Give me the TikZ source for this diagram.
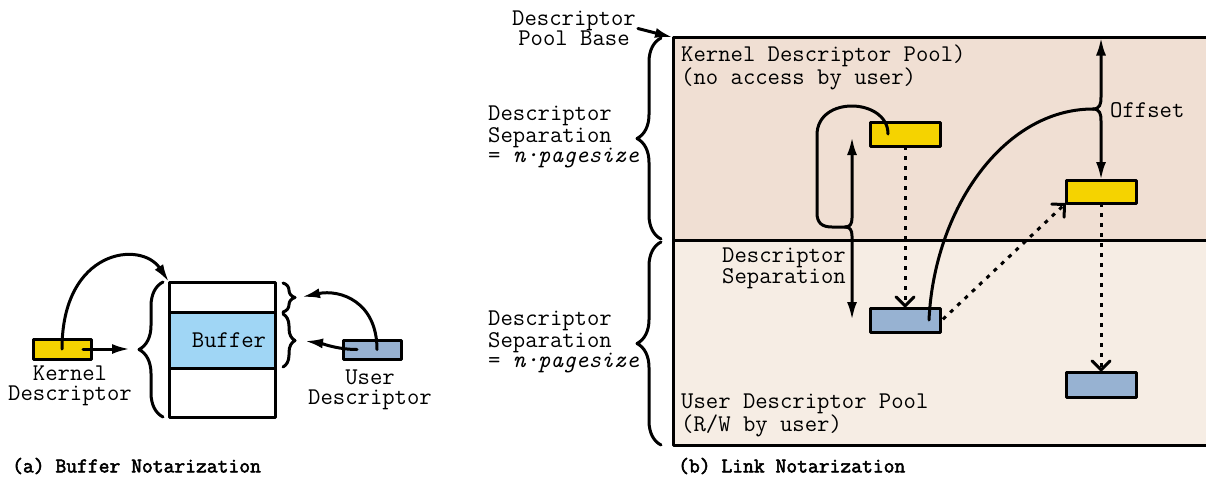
\documentclass[tikz,border=0pt]{standalone}
\usepackage{fontspec}
\newfontfamily\capfont{Latin Modern Mono}[FakeBold=2.5]
\usetikzlibrary{arrows.meta,decorations.pathreplacing}
\definecolor{kyellow}{RGB}{245,211,0}
\definecolor{ublue}{RGB}{151,178,210}
\definecolor{bufblue}{RGB}{160,214,245}
\definecolor{kpoolc}{RGB}{240,223,211}
\definecolor{upoolc}{RGB}{246,237,228}
\begin{document}
\begin{tikzpicture}[x=1pt,y=-1pt,line join=round,line cap=round,
	txt/.style={font=\ttfamily\fontsize{24}{20}\selectfont,inner sep=0pt,align=left},
	caption/.style={font=\capfont\fontsize{21}{20}\selectfont,inner sep=0pt,anchor=west},
	box/.style={draw,line width=3pt,inner sep=0pt,outer sep=0pt},
	kdesc/.style={box,fill=kyellow},
	udesc/.style={box,fill=ublue},
	curly/.style={decorate,decoration={brace,amplitude=#1},line width=3pt},
	link/.style={line width=3pt,-{Latex[length=18pt,width=10pt]}},
	dlink/.style={line width=3pt,dash pattern=on 4pt off 6pt,line cap=butt,-{Straight Barb[length=9pt,width=18pt,line cap=round]}}]
	\useasboundingbox (0,0) rectangle (1206,482);
	% (a) buffer
	\node[kdesc,minimum width=58pt,minimum height=20pt] (kd) at (62,349) {};
	\node[txt,align=center] (kdl) at (70,386) {Kernel\\Descriptor};
	\node[box,fill=white,minimum width=106pt,minimum height=30pt] (bt) at (222,297) {};
	\node[box,fill=bufblue,minimum width=106pt,minimum height=56pt,label={[txt,xshift=7pt]center:Buffer}] (buf) at (222,340) {};
	\node[box,fill=white,minimum width=106pt,minimum height=49pt] (bb) at (222,392.5) {};
	\node[udesc,minimum width=58pt,minimum height=19pt] (ud) at (372,349.5) {};
	\node[txt,align=center] (udl) at (370,390) {User\\Descriptor};
	\draw[curly=24] (163,417) -- (163,282);
	\draw[curly=12] (283,283) -- (283,312);
	\draw[curly=12] (283,314) -- (283,367);
	\coordinate (kin) at (130,349);
	\coordinate (st) at (302,297);
	\coordinate (bt2) at (305,341);
	\draw[link] ([xshift=21pt]kd.center) -- (kin);
	\draw[link] (kd.center) .. controls +(0,-100) and +(-28,-42) .. (bt.north west);
	\draw[link] ([xshift=5pt]ud.center) .. controls +(0,-48) and +(38,-8) .. (st);
	\draw[link] ([xshift=-15pt]ud.center) .. controls +(-20,0) and +(15,2) .. (bt2);
	\node[caption] (capa) at (12,466) {(a) Buffer Notarization};
	% (b) links
	\node[box,fill=kpoolc,minimum width=540pt,minimum height=202.5pt,anchor=north west] (kpool) at (673,37.5) {};
	\node[box,fill=upoolc,minimum width=540pt,minimum height=205pt,anchor=north west] (upool) at (kpool.south west) {};
	\node[txt,anchor=north west] (kpl) at (681,45) {Kernel Descriptor Pool)\\(no access by user)};
	\node[txt,anchor=south west] (upl) at (681,437) {User Descriptor Pool\\(R/W by user)};
	\draw[curly=24] (661,239) -- (661,38);
	\draw[curly=24] (661,445) -- (661,242);
	\node[txt,anchor=west] (sep1) at (488,137) {Descriptor\\Separation\\= {\itshape n·pagesize}};
	\node[txt,anchor=west] (sep2) at (488,342) {Descriptor\\Separation\\= {\itshape n·pagesize}};
	\node[txt,align=center] (pb) at (574,28) {Descriptor\\Pool Base};
	\draw[link,shorten <=2pt] (pb.east) -- (kpool.north west);
	\node[kdesc,minimum width=70pt,minimum height=24pt] (k1) at (905,134) {};
	\node[kdesc,minimum width=70pt,minimum height=23pt] (k2) at (1101,191.5) {};
	\node[udesc,minimum width=70pt,minimum height=24pt] (u1) at (905,320) {};
	\node[udesc,minimum width=70pt,minimum height=25pt] (u2) at (1101,384.5) {};
	\draw[dlink] (k1) -- (u1);
	\draw[dlink] (k2) -- (u2);
	\draw[dlink,shorten <=4pt] ([yshift=-2pt]u1.east) -- (k2.south west);
	\coordinate (oj) at (1093,109);
	\draw[line width=3pt] ([xshift=24pt]u1.center) .. controls +(5,-110) and +(-90,0) .. (oj);
	\draw[link] (oj) .. controls (1100,109) and (1101,104) .. (1101,97) -- (k2.north |- kpool.north);
	\draw[link] (oj) .. controls (1100,109) and (1101,114) .. (1101,121) -- (k2.north);
	\node[txt,anchor=west] (offl) at (1110,110) {Offset};
	\coordinate (sj) at (845,227);
	\coordinate (sepTop) at (852,137);
	\coordinate (sepBot) at (852,320);
	\draw[line width=3pt] ([xshift=-17pt]k1.center) .. controls +(0,-36) and (817,95) .. (817,135) -- (817,213) .. controls (817,223) and (822,227) .. (832,227) -- (sj);
	\draw[link] (sj) .. controls (850,227) and (852,224) .. (852,218) -- (sepTop);
	\draw[link] (sj) .. controls (850,227) and (852,230) .. (852,236) -- (sepBot);
	\node[txt,anchor=east] (sepl) at (846,268) {Descriptor\\Separation};
	\node[caption] (capb) at (678,466) {(b) Link Notarization};
\end{tikzpicture}
\end{document}
